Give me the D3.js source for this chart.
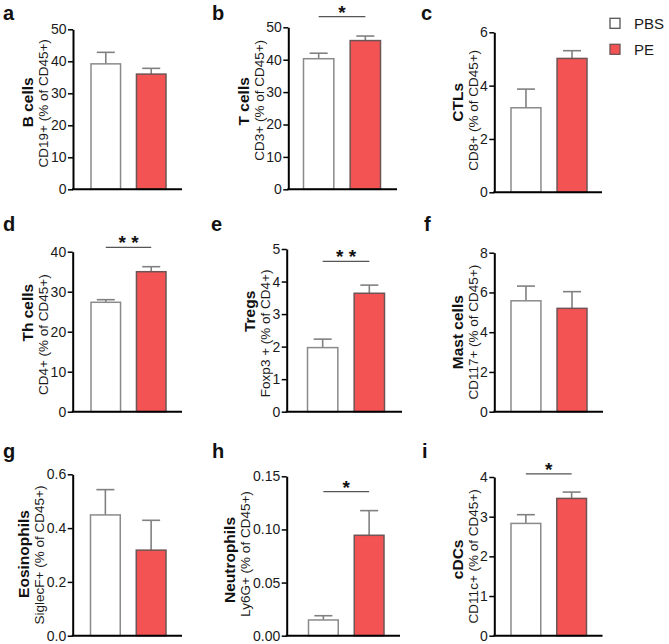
<!DOCTYPE html>
<html><head><meta charset="utf-8">
<script src="https://cdn.jsdelivr.net/npm/d3@7"></script>
<style>
html,body{margin:0;padding:0;background:#fff;}
svg{display:block;font-family:"Liberation Sans",Arial,sans-serif;}
</style></head>
<body>
<svg id="chart" width="669" height="644"></svg>
<script>
// ---------- data ----------
const panelLetters = ["a","b","c","d","e","f","g","h","i"];
const titles = ["B cells","T cells","CTLs","Th cells","Tregs","Mast cells","Eosinophils","Neutrophils","cDCs"];
const subtitles = ["CD19+ (% of CD45+)","CD3+ (% of CD45+)","CD8+ (% of CD45+)","CD4+ (% of CD45+)","Foxp3 + (% of CD4+)","CD117+ (% of CD45+)","SiglecF+ (% of CD45+)","Ly6G+ (% of CD45+)","CD11c+ (% of CD45+)"];
const groups = ["PBS","PE"];
const pbsMean = [39.2, 40.3, 3.17, 27.35, 1.97, 5.58, 0.449, 0.0148, 2.83];
const pbsErr  = [3.6, 1.7, 0.70, 0.65, 0.26, 0.74, 0.094, 0.004, 0.22];
const peMean  = [36.0, 45.9, 5.02, 35.0, 3.64, 5.2, 0.318, 0.0945, 3.46];
const peErr   = [1.8, 1.4, 0.29, 1.25, 0.25, 0.84, 0.111, 0.0232, 0.16];
const yMax = [50, 50, 6, 40, 5, 8, 0.6, 0.15, 4];
const yTicks = [
  [0,10,20,30,40,50],[0,10,20,30,40,50],[0,2,4,6],
  [0,10,20,30,40],[0,1,2,3,4,5],[0,2,4,6,8],
  [0,0.2,0.4,0.6],[0,0.05,0.10,0.15],[0,1,2,3,4]
];
const tickFormats = ["d","d","d","d","d","d",".1f",".2f","d"];
const sigMarks = ["","*","","**","**","","","*","*"];
const sigLevel = [null, 53.3, null, 41.1, 4.62, null, null, 0.1355, 4.08];

// ---------- layout (pixel geometry, not data) ----------
const layout = [
  {ax:73,   top:29.3, bot:189.3, end:182,   b0:91,    b1:166,   lx:3,   ly:19.5,  ts:-7,  ss:-6},
  {ax:288.3,top:27.3, bot:189.3, end:397,   b0:303.5, b1:380.5, lx:212, ly:19.5,  ts:-7,  ss:-8},
  {ax:494.3,top:32.3, bot:192.3, end:602,   b0:511,   b1:587,   lx:421, ly:19.5,  ts:-10, ss:-2},
  {ax:72.7, top:251.7,bot:411.7, end:182,   b0:91,    b1:166,   lx:3,   ly:231, ts:-19, ss:3},
  {ax:286.7,top:249,  bot:411.7, end:402,   b0:307.5, b1:384.5, lx:211, ly:231, ts:-19, ss:3},
  {ax:494.3,top:252.7,bot:411.7, end:603,   b0:511,   b1:587,   lx:424, ly:231, ts:0,   ss:0},
  {ax:72.7, top:474.3,bot:635.7, end:182,   b0:90.5,  b1:166,   lx:3,   ly:458, ts:-1,  ss:0},
  {ax:286.7,top:476.3,bot:635.7, end:400,   b0:308.5, b1:384,   lx:212, ly:458, ts:4,   ss:-2},
  {ax:494.3,top:477,  bot:635.7, end:602.5, b0:511,   b1:586.5, lx:422, ly:458, ts:3,   ss:0}
];
const RED = "#F45353";
const svg = d3.select("#chart");

panelLetters.forEach((letter, i) => {
  const L = layout[i];
  const g = svg.append("g");
  const y = d3.scaleLinear().domain([0, yMax[i]]).range([L.bot, L.top]);
  const x = d3.scaleBand().domain(groups).range([L.b0, L.b1]).paddingInner(0.35).paddingOuter(0);
  const vals = [{k:"PBS", m:pbsMean[i], e:pbsErr[i]}, {k:"PE", m:peMean[i], e:peErr[i]}];

  vals.forEach(v => {
    const cx = x(v.k) + x.bandwidth()/2;
    g.append("line").attr("x1",cx).attr("x2",cx).attr("y1",y(v.m)).attr("y2",y(v.m+v.e))
      .attr("stroke","#808080").attr("stroke-width",1.6);
    g.append("line").attr("x1",cx-9).attr("x2",cx+9).attr("y1",y(v.m+v.e)).attr("y2",y(v.m+v.e))
      .attr("stroke","#808080").attr("stroke-width",1.6);
  });
  g.selectAll("rect.bar").data(vals).enter().append("rect")
    .attr("x", d => x(d.k)).attr("width", x.bandwidth())
    .attr("y", d => y(d.m)).attr("height", d => y(0) - y(d.m))
    .attr("fill", d => d.k === "PBS" ? "#ffffff" : RED)
    .attr("stroke", d => d.k === "PBS" ? "#8a8a8a" : "#6e5454")
    .attr("stroke-width", 1.5);

  const yAxis = d3.axisLeft(y).tickValues(yTicks[i]).tickFormat(d3.format(tickFormats[i]))
    .tickSizeInner(5).tickSizeOuter(0).tickPadding(1.5);
  const ag = g.append("g").attr("transform", `translate(${L.ax},0)`).call(yAxis);
  ag.select(".domain").attr("stroke","#000").attr("stroke-width",2);
  ag.selectAll(".tick line").attr("stroke","#000").attr("stroke-width",1.5);
  ag.selectAll(".tick text").attr("font-size",14).attr("fill","#1a1a1a")
    .attr("font-family","'Liberation Sans',Arial,sans-serif");
  g.append("line").attr("x1", L.ax-1).attr("x2", L.end).attr("y1", y(0)).attr("y2", y(0))
    .attr("stroke","#000").attr("stroke-width",2);

  let minX = Infinity;
  ag.selectAll(".tick text").each(function(){ const b=this.getBBox(); minX=Math.min(minX, L.ax + b.x); });
  const mid = (L.top + L.bot)/2;
  const subX = minX - 2.5;
  g.append("text").attr("transform", `translate(${subX},${mid + L.ss}) rotate(-90)`)
    .attr("text-anchor","middle").attr("font-size",13.5).attr("fill","#1a1a1a").text(subtitles[i]);
  g.append("text").attr("transform", `translate(${subX-15},${mid + L.ts}) rotate(-90)`)
    .attr("text-anchor","middle").attr("font-size",15.5).attr("font-weight","bold").attr("fill","#111").text(titles[i]);

  if (sigMarks[i]) {
    const x1 = x("PBS") + x.bandwidth()/2, x2 = x("PE") + x.bandwidth()/2;
    const sy = y(sigLevel[i]);
    g.append("line").attr("x1",x1).attr("x2",x2).attr("y1",sy).attr("y2",sy)
      .attr("stroke","#555").attr("stroke-width",1.3);
    g.append("text").attr("x",(x1+x2)/2).attr("y",sy+2).attr("text-anchor","middle")
      .attr("font-size",19).attr("font-weight","bold").attr("fill","#111")
      .text(sigMarks[i].split("").join(" "));
  }

  svg.append("text").attr("x", L.lx).attr("y", L.ly).attr("font-size",20).attr("font-weight","bold")
    .attr("fill","#111").text(letter);
});

const legend = svg.append("g");
groups.forEach((gname, j) => {
  const cy = 23.3 + j*26;
  legend.append("rect").attr("x",610).attr("y",cy-5).attr("width",10).attr("height",10)
    .attr("fill", j===0 ? "#fff" : RED).attr("stroke", j===0 ? "#555" : "#6e5454").attr("stroke-width",1.3);
  legend.append("text").attr("x",634).attr("y",cy+5.5).attr("font-size",15).attr("fill","#1a1a1a").text(gname);
});
</script>
</body></html>
